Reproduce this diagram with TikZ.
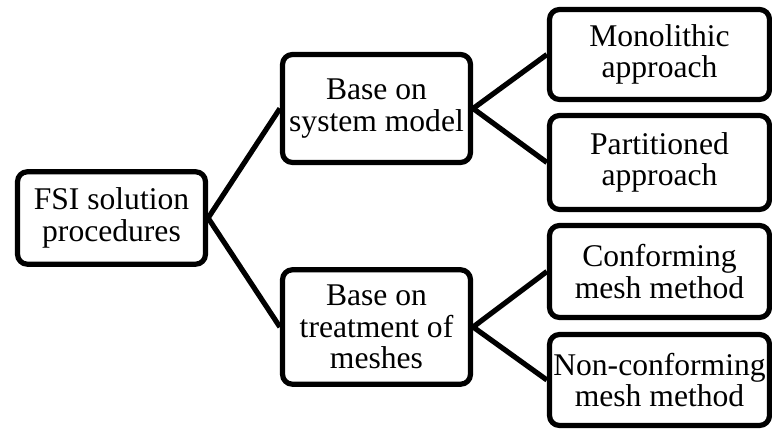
\documentclass[tikz,border=0pt]{standalone}
\usepackage{fontspec}
\setmainfont{Liberation Serif}
\begin{document}
\begin{tikzpicture}[x=1pt,y=-1pt,
  box/.style={draw=black, line width=5.2pt, rounded corners=10pt, inner sep=0pt,
    align=center, font=\fontsize{31.6}{31.5}\selectfont, text=black},
  conn/.style={draw=black, line width=5.2pt}]
\useasboundingbox (0,0) rectangle (772,430);
\node[box, minimum width=188pt, minimum height=92.5pt] (fsi) at (111.5,218) {FSI solution\\procedures};
\node[box, minimum width=188pt, minimum height=108pt] (sys) at (376.5,108.5) {Base on\\system model};
\node[box, minimum width=188pt, minimum height=114.5pt] (mesh) at (376.5,327) {Base on\\treatment of\\meshes};
\node[box, minimum width=220pt, minimum height=90pt] (mono) at (659.5,54.5) {Monolithic\\approach};
\node[box, minimum width=220pt, minimum height=94pt] (part) at (659.5,162.5) {Partitioned\\approach};
\node[box, minimum width=220pt, minimum height=92pt] (conf) at (659.5,271.5) {Conforming\\mesh method};
\node[box, minimum width=220pt, minimum height=91pt] (nonc) at (659.5,380) {Non-conforming\\mesh method};
\draw[conn] (fsi.east) -- (sys.west);
\draw[conn] (fsi.east) -- (mesh.west);
\draw[conn] (sys.east) -- (mono.west);
\draw[conn] (sys.east) -- (part.west);
\draw[conn] (mesh.east) -- (conf.west);
\draw[conn] (mesh.east) -- (nonc.west);
\end{tikzpicture}
\end{document}
